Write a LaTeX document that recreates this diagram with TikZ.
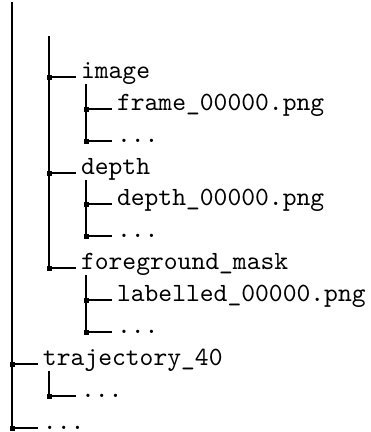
\documentclass[tikz,border=0pt]{standalone}
\begin{document}
\begin{tikzpicture}[x=0.38pt,y=-0.38pt,line width=0.4pt,
  tx/.style={font=\ttfamily, anchor=base west, inner sep=0pt, outer xsep=1.9pt},
  junc/.style={rectangle, fill=black, inner sep=0pt, minimum size=1.9pt}]
\useasboundingbox (0,0) rectangle (370,432);
% junction coordinates
\coordinate (jimage) at (49,77);
\coordinate (jframe) at (86,109);
\coordinate (jd1) at (86,141);
\coordinate (jdepth) at (49,173);
\coordinate (jdepthf) at (86,204);
\coordinate (jd2) at (86,236);
\coordinate (jfg) at (49,268);
\coordinate (jlab) at (86,300);
\coordinate (jd3) at (86,332);
\coordinate (jtraj) at (12,364);
\coordinate (jd4) at (49,396);
\coordinate (jd5) at (12,428);
% vertical starts
\coordinate (v1) at (12,2);
\coordinate (v2) at (49,36);
\coordinate (v3a) at (86,84);
\coordinate (v3b) at (86,180);
\coordinate (v3c) at (86,275);
\coordinate (v2b) at (49,371);
% texts
\node[tx] (timage) at (76,78.5) {image};
\node[tx] (tframe) at (112,110.5) {frame\_00000.png};
\node[tx] (td1) at (112,142.5) {...};
\node[tx] (tdepth) at (76,174.5) {depth};
\node[tx] (tdepthf) at (112,205.5) {depth\_00000.png};
\node[tx] (td2) at (112,237.5) {...};
\node[tx] (tfg) at (76,269.5) {foreground\_mask};
\node[tx] (tlab) at (112,301.5) {labelled\_00000.png};
\node[tx] (td3) at (112,333.5) {...};
\node[tx] (ttraj) at (38,365.5) {trajectory\_40};
\node[tx] (td4) at (76,397.5) {...};
\node[tx] (td5) at (38,429.5) {...};
% verticals
\draw (v1) -- (jd5);
\draw (v2) -- (jfg);
\draw (v3a) -- (jd1);
\draw (v3b) -- (jd2);
\draw (v3c) -- (jd3);
\draw (v2b) -- (jd4);
% horizontals
\foreach \n in {image,frame,d1,depth,depthf,d2,fg,lab,d3,traj,d4,d5}
  \draw (j\n) -- (j\n -| t\n.west);
% junction squares
\foreach \n in {image,frame,d1,depth,depthf,d2,fg,lab,d3,traj,d4,d5}
  \node[junc] (s\n) at (j\n) {};
\end{tikzpicture}
\end{document}
